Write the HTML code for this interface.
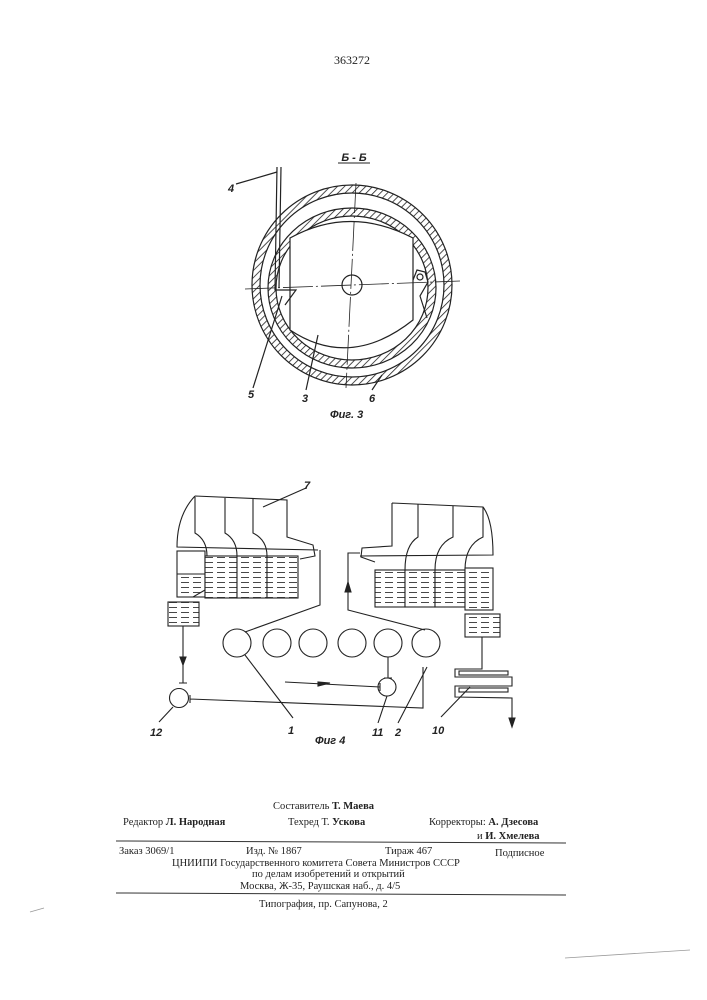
<!DOCTYPE html>
<html><head><meta charset="utf-8"><style>
html,body{margin:0;padding:0;background:#fff}
svg{display:block}
text{font-family:"Liberation Serif",serif;fill:#222}
.it{font-family:"Liberation Sans",sans-serif;font-style:italic;font-weight:bold;font-size:11px}
</style></head><body>
<svg width="707" height="1000" viewBox="0 0 707 1000" xmlns="http://www.w3.org/2000/svg">
<defs>
<pattern id="h" width="5" height="5" patternUnits="userSpaceOnUse" patternTransform="rotate(45)">
<rect width="5" height="5" fill="#fff"/><line x1="0" y1="0" x2="0" y2="5" stroke="#222" stroke-width="1.6"/></pattern>
<pattern id="w" width="12" height="5" patternUnits="userSpaceOnUse">
<rect width="12" height="5" fill="#fff"/><line x1="1" y1="2.5" x2="9" y2="2.5" stroke="#333" stroke-width="0.9"/></pattern>
</defs>
<text x="352" y="64" font-size="12" text-anchor="middle">363272</text>

<!-- Fig 3 -->
<g stroke="#222" fill="none" stroke-width="1.2">
<path fill-rule="evenodd" fill="url(#h)" d="M252,285a100,100 0 1,0 200,0a100,100 0 1,0 -200,0M260,285a92,92 0 1,0 184,0a92,92 0 1,0 -184,0"/>
<path fill-rule="evenodd" fill="url(#h)" d="M268,288a84,80 0 1,0 168,0a84,80 0 1,0 -168,0M276,288a76,72 0 1,0 152,0a76,72 0 1,0 -152,0"/>
<path d="M290,238 Q350,205 413,238 L413,320 Q350,370 290,330 Z" fill="#fff"/>
<circle cx="352" cy="285" r="10" fill="#fff"/>
<line x1="245" y1="289" x2="460" y2="281" stroke-width="0.8" stroke-dasharray="30,3,2,3"/>
<line x1="356" y1="183" x2="346" y2="388" stroke-width="0.8" stroke-dasharray="30,3,2,3"/>
<path d="M277,167 L275,290 L296,290 L285,305 M281,167 L279,288"/>
<path d="M413,280 L417,270 L425,272 L428,282 L420,296 L427,318"/>
<circle cx="420" cy="277" r="3"/>
<line x1="236" y1="184" x2="277" y2="172"/>
<line x1="253" y1="388" x2="282" y2="296"/>
<line x1="306" y1="390" x2="318" y2="335"/>
<line x1="372" y1="390" x2="382" y2="375"/>
<line x1="338" y1="163" x2="370" y2="163" stroke-width="1"/>
</g>
<text x="354" y="161" class="it" text-anchor="middle">Б - Б</text>
<text x="228" y="192" class="it">4</text>
<text x="248" y="398" class="it">5</text>
<text x="302" y="402" class="it">3</text>
<text x="369" y="402" class="it">6</text>
<text x="330" y="418" class="it" font-size="10">Фиг. 3</text>

<!-- Fig 4 -->
<g stroke="#222" fill="none" stroke-width="1.1">
<path d="M195,496 L287,500 L287,537 L313,545 L315,556 L300,559 M195,496 Q177,515 177,547 L318,550"/>
<path d="M195,497 L195,533 Q207,540 207,556 M225,498 L225,533 Q237,540 237,556 M253,499 L253,533 Q267,540 267,556"/>
<rect x="177" y="551" width="28" height="46" fill="#fff"/>
<rect x="178" y="574" width="26" height="22" fill="url(#w)" stroke="none"/>
<path d="M177,574 L205,574 M177,597 L193,597 L205,590"/>
<rect x="205" y="556" width="32" height="42" fill="url(#w)"/>
<rect x="237" y="556" width="30" height="42" fill="url(#w)"/>
<rect x="267" y="556" width="31" height="42" fill="url(#w)"/>
<rect x="168" y="602" width="31" height="24" fill="url(#w)"/>
<path d="M392,503 L483,507 Q493,520 493,555 L360,556 M392,503 L392,546 L362,548 L361,557 L375,562"/>
<path d="M418,504 L418,537 Q405,545 405,570 M453,506 L453,537 Q435,545 435,570 M483,507 L483,537 Q465,545 465,570"/>
<rect x="375" y="570" width="30" height="37" fill="url(#w)"/>
<rect x="405" y="570" width="30" height="37" fill="url(#w)"/>
<rect x="435" y="570" width="30" height="37" fill="url(#w)"/>
<rect x="465" y="568" width="28" height="42" fill="url(#w)"/>
<rect x="465" y="614" width="35" height="23" fill="url(#w)"/>
<circle cx="237" cy="643" r="14"/><circle cx="277" cy="643" r="14"/><circle cx="313" cy="643" r="14"/>
<circle cx="352" cy="643" r="14"/><circle cx="388" cy="643" r="14"/><circle cx="426" cy="643" r="14"/>
<circle cx="387" cy="687" r="9"/><circle cx="179" cy="698" r="9.5"/>
<path d="M320,550 L320,605 L245,632"/>
<path d="M425,630 L348,610 L348,553 L360,553"/>
<path d="M345,592 L348,582 L351,592 Z" fill="#222"/>
<path d="M183,626 L183,683 M179,683 L187,683"/>
<path d="M180,657 L183,665 L186,657 Z" fill="#222"/>
<path d="M190,695 L190,703 M190,699 L423,708 L423,667"/>
<path d="M285,682 L380,687 M380,683 L380,691"/>
<path d="M330,683 L318,682 L318,686 Z" fill="#222"/>
<path d="M388,657 L388,678 M384,678 L392,678"/>
<path d="M482,637 L482,669 L455,669 L455,677 L512,677 L512,686 L455,686 L455,693"/>
<rect x="459" y="671" width="49" height="4"/><rect x="459" y="688" width="49" height="4"/>
<path d="M455,693 L455,697 L512,698 L512,725"/>
<path d="M509,718 L512,727 L515,718 Z" fill="#222"/>
<line x1="306" y1="488" x2="263" y2="507"/>
<line x1="245" y1="655" x2="293" y2="718"/>
<line x1="387" y1="696" x2="378" y2="723"/>
<line x1="427" y1="667" x2="398" y2="723"/>
<line x1="470" y1="687" x2="441" y2="717"/>
<line x1="173" y1="707" x2="159" y2="722"/>
</g>
<text x="304" y="489" class="it" font-size="10">7</text>
<text x="288" y="734" class="it" font-size="10">1</text>
<text x="372" y="736" class="it" font-size="10">11</text>
<text x="395" y="736" class="it" font-size="11">2</text>
<text x="432" y="734" class="it" font-size="10">10</text>
<text x="150" y="736" class="it" font-size="10">12</text>
<text x="315" y="744" class="it" font-size="10">Фиг 4</text>

<g font-size="10.5">
<text x="273" y="809">Составитель <tspan font-weight="bold">Т. Маева</tspan></text>
<text x="123" y="825">Редактор <tspan font-weight="bold">Л. Народная</tspan></text>
<text x="288" y="825">Техред Т. <tspan font-weight="bold">Ускова</tspan></text>
<text x="429" y="825">Корректоры: <tspan font-weight="bold">А. Дзесова</tspan></text>
<text x="477" y="839">и <tspan font-weight="bold">И. Хмелева</tspan></text>
<text x="119" y="854">Заказ 3069/1</text>
<text x="246" y="854">Изд. № 1867</text>
<text x="385" y="854">Тираж 467</text>
<text x="495" y="856">Подписное</text>
<text x="172" y="866">ЦНИИПИ Государственного комитета Совета Министров СССР</text>
<text x="252" y="877">по делам изобретений и открытий</text>
<text x="240" y="889">Москва, Ж-35, Раушская наб., д. 4/5</text>
<text x="259" y="907">Типография, пр. Сапунова, 2</text>
</g>
<line x1="116" y1="841" x2="566" y2="843" stroke="#333" stroke-width="1"/>
<line x1="116" y1="893" x2="566" y2="895" stroke="#333" stroke-width="1"/>
<line x1="565" y1="958" x2="690" y2="950" stroke="#999" stroke-width="0.8"/>
<line x1="30" y1="912" x2="44" y2="908" stroke="#999" stroke-width="0.8"/>
</svg>
</body></html>
